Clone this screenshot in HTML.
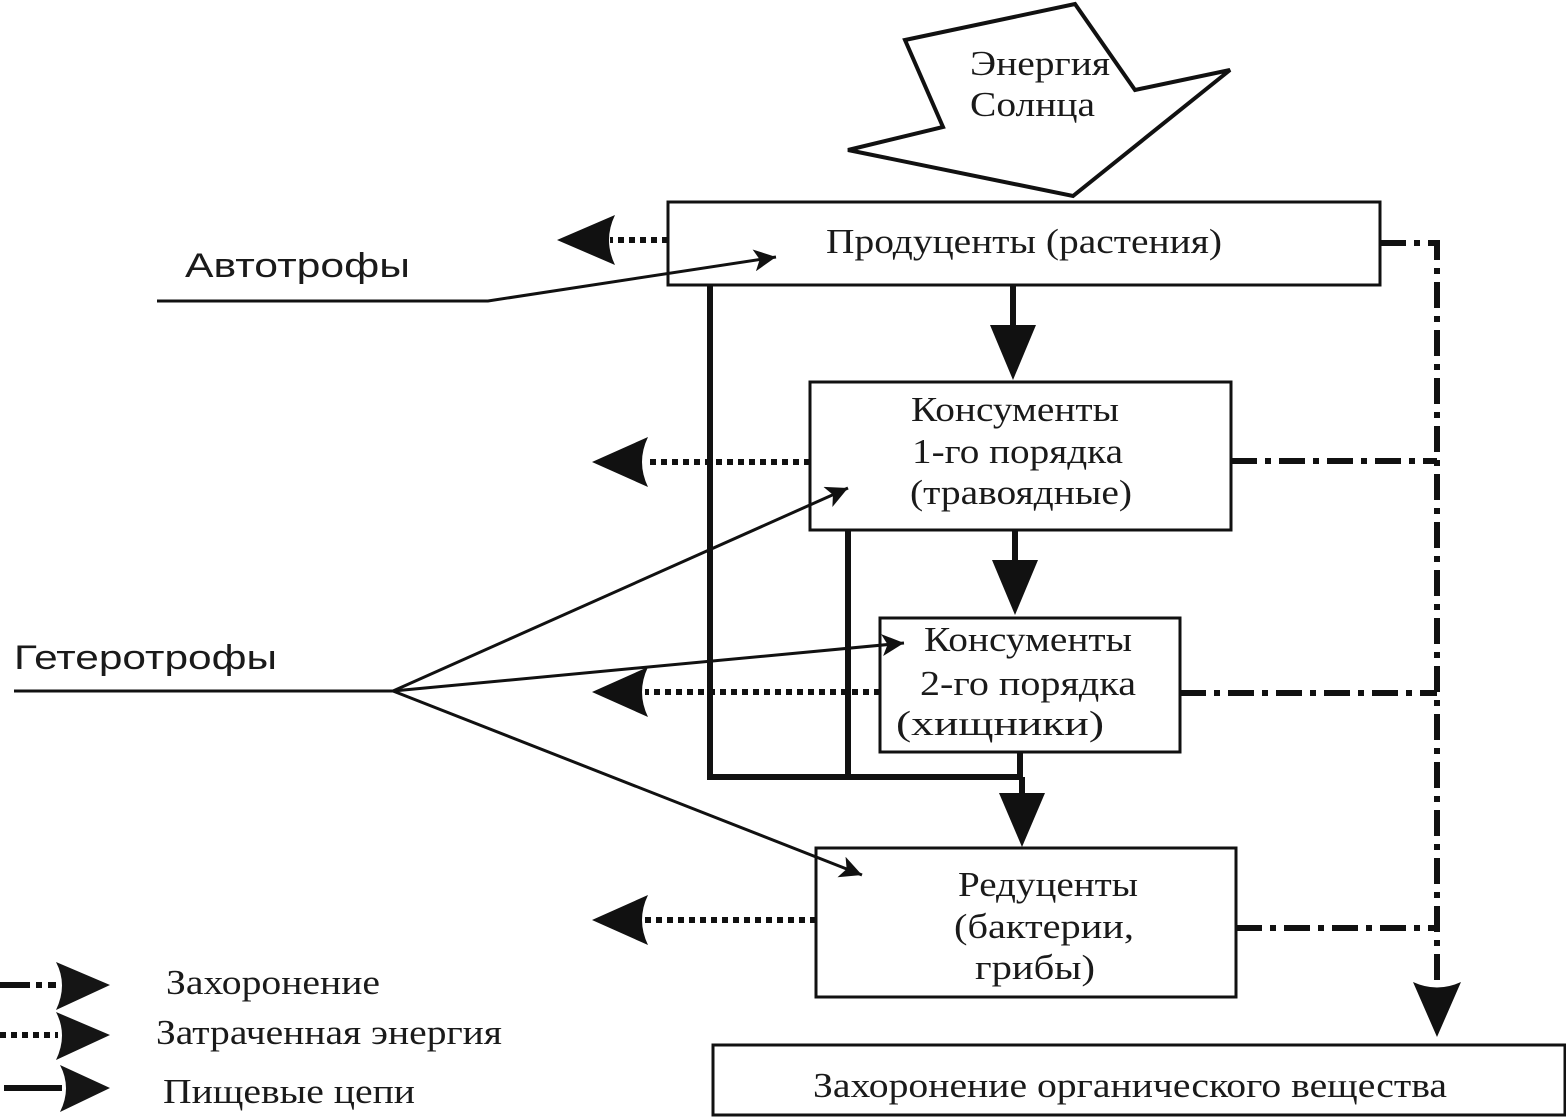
<!DOCTYPE html>
<html><head><meta charset="utf-8"><style>
html,body{margin:0;padding:0;background:#fff}
svg{display:block}
text{font-family:"Liberation Serif",serif;font-size:35px;fill:#1a1a1a}
</style></head><body>
<svg width="1566" height="1118" viewBox="0 0 1566 1118" xmlns="http://www.w3.org/2000/svg">
<defs>
<marker id="ah" viewBox="0 0 20 20" refX="20" refY="10" markerWidth="28" markerHeight="22" markerUnits="userSpaceOnUse" orient="auto"><path d="M0,0 L20,10 L0,20 L5,10 Z" fill="#111"/></marker>
</defs>
<polygon points="905,40 1075,4 1135,90 1230,70 1073,196 848,150 943,127" fill="#fff" stroke="#111" stroke-width="4"/>
<text x="970" y="75" textLength="140" lengthAdjust="spacingAndGlyphs">Энергия</text>
<text x="970" y="116" textLength="125" lengthAdjust="spacingAndGlyphs">Солнца</text>
<g fill="#fff" stroke="#111" stroke-width="3">
<rect x="668" y="202" width="712" height="83"/>
<rect x="810" y="382" width="421" height="148"/>
<rect x="880" y="618" width="300" height="134"/>
<rect x="816" y="848" width="420" height="149"/>
<rect x="713" y="1045" width="852" height="70"/>
</g>
<text x="826" y="253" textLength="396" lengthAdjust="spacingAndGlyphs">Продуценты (растения)</text>
<text x="911" y="421" textLength="208" lengthAdjust="spacingAndGlyphs">Консументы</text>
<text x="912" y="463" textLength="211" lengthAdjust="spacingAndGlyphs">1-го порядка</text>
<text x="910" y="504" textLength="222" lengthAdjust="spacingAndGlyphs">(травоядные)</text>
<text x="924" y="651" textLength="208" lengthAdjust="spacingAndGlyphs">Консументы</text>
<text x="920" y="695" textLength="216" lengthAdjust="spacingAndGlyphs">2-го порядка</text>
<text x="896" y="735" textLength="208" lengthAdjust="spacingAndGlyphs">(хищники)</text>
<text x="958" y="896" textLength="180" lengthAdjust="spacingAndGlyphs">Редуценты</text>
<text x="954" y="938" textLength="180" lengthAdjust="spacingAndGlyphs">(бактерии,</text>
<text x="975" y="979" textLength="120" lengthAdjust="spacingAndGlyphs">грибы)</text>
<text x="813" y="1097" textLength="634" lengthAdjust="spacingAndGlyphs">Захоронение органического вещества</text>
<text x="185" y="277" textLength="225" lengthAdjust="spacingAndGlyphs" style="font-family:'Liberation Sans',sans-serif;font-size:34px">Автотрофы</text>
<text x="14" y="669" textLength="263" lengthAdjust="spacingAndGlyphs" style="font-family:'Liberation Sans',sans-serif;font-size:34px">Гетеротрофы</text>
<g stroke="#111" stroke-width="6" fill="none">
<polyline points="710,285 710,777 1022,777"/>
<line x1="848" y1="530" x2="848" y2="777"/>
<line x1="1020" y1="752" x2="1020" y2="780"/>
<line x1="1013" y1="285" x2="1013" y2="330"/>
<line x1="1015" y1="530" x2="1015" y2="565"/>
<line x1="1022" y1="777" x2="1022" y2="800"/>
</g>
<g fill="#111">
<path d="M990,325 L1036,325 L1013,380 Z"/>
<path d="M992,560 L1038,560 L1015,615 Z"/>
<path d="M999,793 L1045,793 L1022,847 Z"/>
</g>
<g stroke="#111" stroke-width="6" stroke-dasharray="6,5" fill="none">
<line x1="668" y1="240" x2="610" y2="240"/>
<line x1="810" y1="462" x2="645" y2="462"/>
<line x1="880" y1="692" x2="645" y2="692"/>
<line x1="816" y1="920" x2="645" y2="920"/>
</g>
<g fill="#111">
<path d="M557,240 L615,215 Q603,240 615,265 Z"/>
<path d="M592,462 L648,437 Q636,462 648,487 Z"/>
<path d="M592,692 L648,667 Q636,692 648,717 Z"/>
<path d="M592,920 L648,895 Q636,920 648,945 Z"/>
</g>
<g stroke="#111" stroke-width="6" stroke-dasharray="26,8,6,8" fill="none">
<polyline points="1380,243 1437,243 1437,990"/>
<line x1="1231" y1="461" x2="1437" y2="461"/>
<line x1="1180" y1="693" x2="1437" y2="693"/>
<line x1="1236" y1="928" x2="1437" y2="928"/>
</g>
<path d="M1437,1037 L1413,982 Q1437,993 1461,982 Z" fill="#111"/>
<g stroke="#111" stroke-width="3" fill="none">
<polyline points="157,301 488,301 776,257" marker-end="url(#ah)"/>
<line x1="14" y1="691" x2="393" y2="691"/>
<line x1="393" y1="691" x2="848" y2="488" marker-end="url(#ah)"/>
<line x1="393" y1="691" x2="904" y2="643" marker-end="url(#ah)"/>
<line x1="393" y1="691" x2="862" y2="875" marker-end="url(#ah)"/>
</g>
<g stroke="#111" stroke-width="6" fill="none">
<line x1="0" y1="985" x2="30" y2="985"/>
<line x1="36" y1="985" x2="42" y2="985"/>
<line x1="48" y1="985" x2="56" y2="985"/>
<line x1="0" y1="1035" x2="58" y2="1035" stroke-dasharray="6,5"/>
<line x1="4" y1="1088" x2="62" y2="1088"/>
</g>
<g fill="#151515">
<path d="M110,985 L56,962 Q68,985 56,1010 Z"/>
<path d="M110,1035 L56,1012 Q68,1035 56,1060 Z"/>
<path d="M110,1088 L60,1065 Q72,1088 60,1112 Z"/>
</g>
<text x="166" y="994" textLength="214" lengthAdjust="spacingAndGlyphs">Захоронение</text>
<text x="156" y="1044" textLength="346" lengthAdjust="spacingAndGlyphs">Затраченная энергия</text>
<text x="163" y="1103" textLength="252" lengthAdjust="spacingAndGlyphs">Пищевые цепи</text>
</svg>
</body></html>
